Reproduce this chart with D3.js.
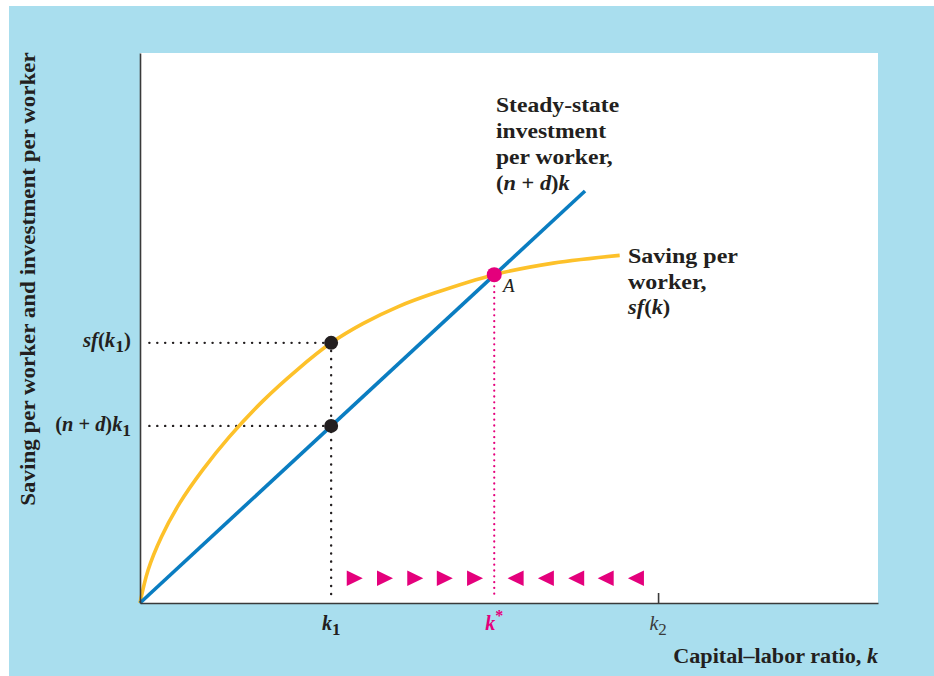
<!DOCTYPE html>
<html><head><meta charset="utf-8">
<script src="https://cdn.jsdelivr.net/npm/d3@7"></script>
<style>
html,body{margin:0;padding:0;background:#fff;}
svg text{font-family:"Liberation Serif","Times New Roman",serif;fill:#231f20;}
</style></head>
<body><svg id="c" width="934" height="676"></svg>
<script>
// ---- data ----
const curveK  = [0, 1.1, 2.9, 5.4, 8.5, 12.1, 16.7, 21.3, 25.9, 30.2, 35, 40, 48, 56, 65];
const curveSF = [0, 6, 12, 18.2, 24.2, 30.2, 36.8, 42.4, 47.3, 50.8, 53.9, 56.4, 59.7, 61.8, 63.2];
const lineK   = [0, 60.3];
const lineInv = [0, 74.9];
const k1 = 25.9, kStar = 48, k2 = 70.2;
const sfK1 = 47.3, ndK1 = 32.2, valStar = 59.7;
const rightArrows = [29.1, 33.2, 37.3, 41.3, 45.4];
const leftArrows  = [50.9, 55.0, 59.1, 63.1, 67.2];
const arrowLevel = 4.5;
const steadyLabel = ["Steady-state", "investment", "per worker,"];
const savingLabel = ["Saving per", "worker,"];
const yTitle = "Saving per worker and investment per worker";

// ---- colours ----
const BG = "#a9deee", YEL = "#fdc12a", BLUE = "#0a7dc1", PINK = "#e4007c", INK = "#231f20";

const svg = d3.select("#c");
svg.append("rect").attr("x", 9).attr("y", 6).attr("width", 925).attr("height", 670).attr("fill", BG);
svg.append("rect").attr("x", 140).attr("y", 53).attr("width", 738).attr("height", 550).attr("fill", "#fff");

const x = d3.scaleLinear().domain([0, 100]).range([140, 878]);
const y = d3.scaleLinear().domain([0, 100]).range([603, 53]);

// dotted guides
const dotted = (sel, col, w, dash) => sel.attr("stroke", col).attr("stroke-width", w)
  .attr("stroke-dasharray", dash).attr("stroke-linecap", "round").attr("fill", "none");
dotted(svg.append("line").attr("x1", x(k1)).attr("x2", x(0) + 3).attr("y1", y(sfK1)).attr("y2", y(sfK1)), INK, 2.4, "0.1,7.8");
dotted(svg.append("line").attr("x1", x(k1)).attr("x2", x(0) + 3).attr("y1", y(ndK1)).attr("y2", y(ndK1)), INK, 2.4, "0.1,7.8");
dotted(svg.append("line").attr("x1", x(k1)).attr("x2", x(k1)).attr("y1", y(sfK1)).attr("y2", y(0) - 4), INK, 2.4, "0.1,8");
dotted(svg.append("line").attr("x1", x(kStar)).attr("x2", x(kStar)).attr("y1", y(valStar)).attr("y2", y(0) - 4), PINK, 2.2, "0.1,5.7");

// curves
const sfPts = curveK.map((k, i) => [k, curveSF[i]]);
svg.append("path").datum(sfPts)
  .attr("d", d3.line().x(d => x(d[0])).y(d => y(d[1])).curve(d3.curveCatmullRom.alpha(0.5)))
  .attr("fill", "none").attr("stroke", YEL).attr("stroke-width", 3.6);
const invPts = lineK.map((k, i) => [k, lineInv[i]]);
svg.append("path").datum(invPts)
  .attr("d", d3.line().x(d => x(d[0])).y(d => y(d[1])))
  .attr("fill", "none").attr("stroke", BLUE).attr("stroke-width", 3.6);

// axes
const gx = svg.append("g").attr("transform", `translate(0,${y(0)})`)
  .call(d3.axisBottom(x).tickValues([k2]).tickSize(-10).tickSizeOuter(0).tickFormat(""));
const gy = svg.append("g").attr("transform", `translate(${x(0)},0)`)
  .call(d3.axisLeft(y).tickValues([]).tickSizeOuter(0));
[gx, gy].forEach(g => { g.selectAll("path,line").attr("stroke", "#3a3a3a").attr("stroke-width", 1.6); });

// points
svg.append("circle").attr("cx", x(k1)).attr("cy", y(sfK1)).attr("r", 7).attr("fill", INK);
svg.append("circle").attr("cx", x(k1)).attr("cy", y(ndK1)).attr("r", 7).attr("fill", INK);
svg.append("circle").attr("cx", x(kStar)).attr("cy", y(valStar)).attr("r", 7.5).attr("fill", PINK);

// arrows
const tri = (cx, cy, dir) => {
  const w = 8, h = 7.8;
  return dir > 0 ? `M${cx - w},${cy - h}L${cx + w},${cy}L${cx - w},${cy + h}Z`
                 : `M${cx + w},${cy - h}L${cx - w},${cy}L${cx + w},${cy + h}Z`;
};
svg.selectAll(".ar").data(rightArrows).enter().append("path")
  .attr("d", d => tri(x(d), y(arrowLevel), 1)).attr("fill", PINK);
svg.selectAll(".al").data(leftArrows).enter().append("path")
  .attr("d", d => tri(x(d), y(arrowLevel), -1)).attr("fill", PINK);

// ---- text ----
const FS = 20;
// rich text, optionally widened horizontally (sx) to mimic the wider book face
function rich(xp, yp, parts, opt) {
  opt = opt || {};
  const size = opt.size || FS, sx = opt.sx || 1;
  const g = svg.append("g").attr("transform", `translate(${xp},${yp}) scale(${sx},1)`);
  const t = g.append("text").attr("x", 0).attr("y", 0)
    .attr("text-anchor", opt.anchor || "start").style("font-size", size + "px")
    .style("font-weight", "bold").style("fill", opt.fill || INK);
  parts.forEach(p => {
    const s = t.append("tspan").text(p.t);
    if (p.i) s.style("font-style", "italic");
    if (p.w) s.style("font-weight", p.w);
    if (p.sub) { s.attr("dy", 5).style("font-size", (size * 0.85) + "px"); }
    if (p.back) s.attr("dy", -5);
    if (p.sup) { s.attr("dy", -9).style("font-size", (size * 0.8) + "px"); }
    if (p.dx) s.attr("dx", p.dx);
  });
  return t;
}

// y title
svg.append("g").attr("transform", `translate(35,${(53 + 505) / 2}) rotate(-90) scale(1.15,1)`)
  .append("text").attr("text-anchor", "middle").style("font-size", "20px").style("font-weight", "bold")
  .text(yTitle);

// x title
rich(878, 663, [{t: "Capital\u2013labor ratio, "}, {t: "k", i: 1}], {anchor: "end", sx: 1.11});

// tick labels
rich(x(k1), 630, [{t: "k", i: 1}, {t: "1", sub: 1}], {anchor: "middle"});
rich(x(kStar), 630, [{t: "k", i: 1}, {t: "*", sup: 1}], {anchor: "middle", fill: PINK});
rich(x(k2), 630, [{t: "k", i: 1, w: "normal"}, {t: "2", sub: 1, w: "normal"}], {anchor: "middle", fill: "#3a3a3a"});

// left labels
rich(131, 347, [{t: "sf", i: 1}, {t: "("}, {t: "k", i: 1}, {t: "1", sub: 1}, {t: ")", back: 1}], {anchor: "end", sx: 1.04});
rich(131, 431, [{t: "("}, {t: "n", i: 1}, {t: " + "}, {t: "d", i: 1}, {t: ")"}, {t: "k", i: 1}, {t: "1", sub: 1}], {anchor: "end", sx: 1.02});

// steady-state label
steadyLabel.forEach((s, i) => rich(496, 112 + i * 26, [{t: s}], {sx: 1.18}));
rich(496, 190, [{t: "("}, {t: "n", i: 1}, {t: " + "}, {t: "d", i: 1}, {t: ")"}, {t: "k", i: 1}], {sx: 1.12});

// saving label
savingLabel.forEach((s, i) => rich(628, 263 + i * 26, [{t: s}], {sx: 1.2}));
rich(628, 314, [{t: "sf", i: 1}, {t: "("}, {t: "k", i: 1}, {t: ")"}], {sx: 1.12});

// A
rich(503, 292, [{t: "A", i: 1, w: "normal"}], {size: 19});
</script></body></html>
